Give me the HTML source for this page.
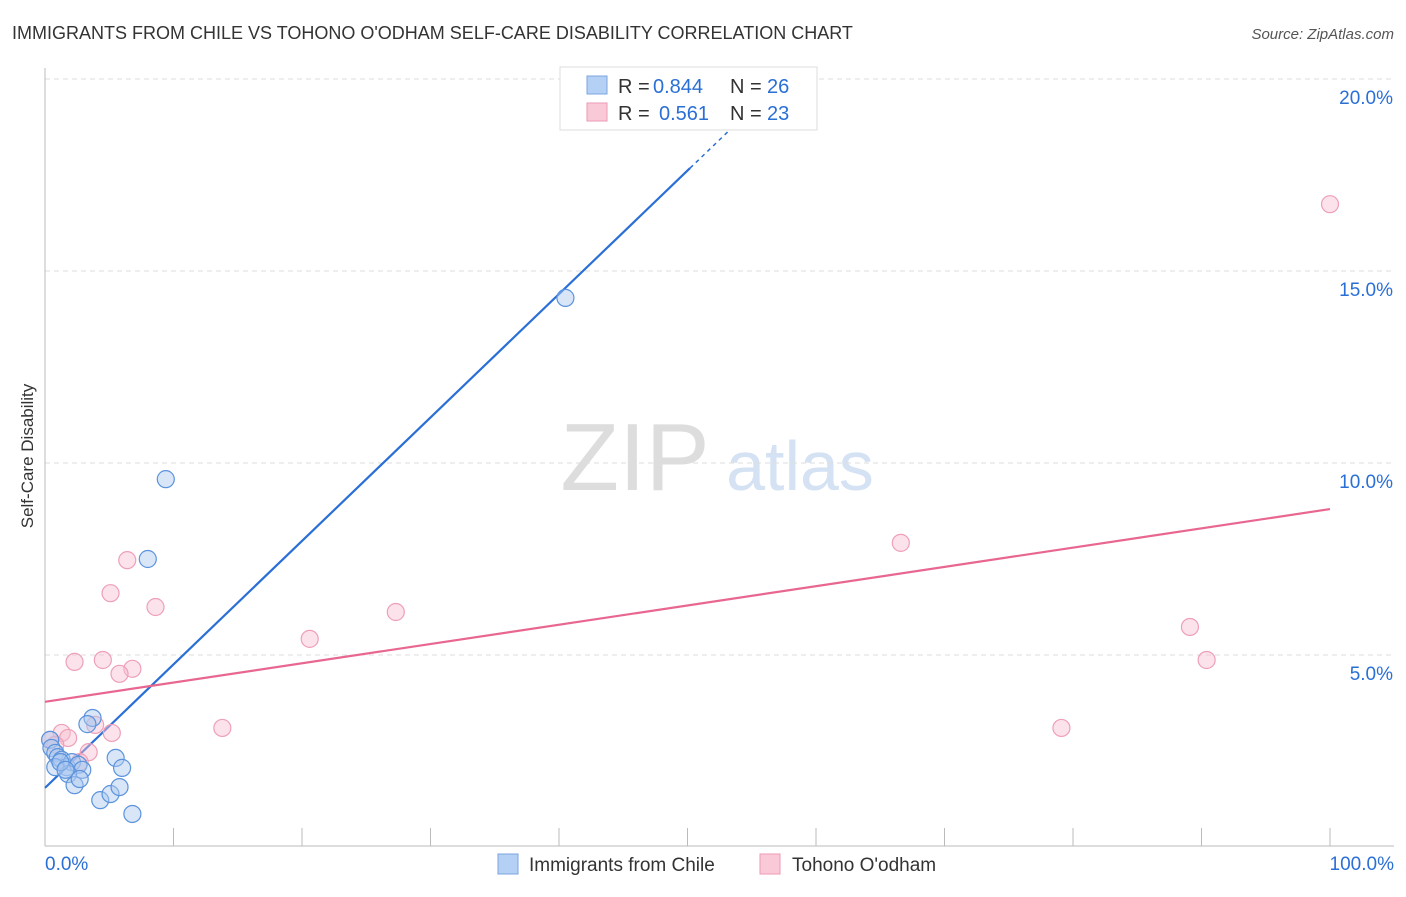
<!DOCTYPE html>
<html><head><meta charset="utf-8"><style>
body{margin:0;background:#fff;font-family:"Liberation Sans",sans-serif;}
svg text{font-family:"Liberation Sans",sans-serif;}
</style></head><body>
<svg width="1406" height="892">
<text x="12" y="39" font-size="18" fill="#333">IMMIGRANTS FROM CHILE VS TOHONO O'ODHAM SELF-CARE DISABILITY CORRELATION CHART</text>
<text x="1394" y="39" font-size="15" fill="#555" font-style="italic" text-anchor="end">Source: ZipAtlas.com</text>
<text x="33" y="456" font-size="17" fill="#333" text-anchor="middle" transform="rotate(-90 33 456)">Self-Care Disability</text>
<g><text x="635" y="490" font-size="96" fill="#ddd" font-family="Liberation Serif" text-anchor="middle">ZIP</text><text x="800" y="490" font-size="70" fill="#d4e2f4" text-anchor="middle">atlas</text></g>
<g id="grid"></g><g id="axes"></g><g id="lines"></g><g id="pts"></g>
<g>
<rect x="560" y="67" width="257" height="63" fill="#fff" stroke="#ddd"/>
<rect x="587" y="76" width="20" height="18" fill="#b5d0f5" stroke="#7aa6e0"/>
<rect x="587" y="103" width="20" height="18" fill="#fac9d8" stroke="#ee9ab4"/>
<text x="618" y="93" font-size="20" fill="#333">R =</text>
<text x="653" y="93" font-size="20" fill="#2a6fd6">0.844</text>
<text x="730" y="93" font-size="20" fill="#333">N =</text>
<text x="767" y="93" font-size="20" fill="#2a6fd6">26</text>
<text x="618" y="120" font-size="20" fill="#333">R =</text>
<text x="659" y="120" font-size="20" fill="#2a6fd6">0.561</text>
<text x="730" y="120" font-size="20" fill="#333">N =</text>
<text x="767" y="120" font-size="20" fill="#2a6fd6">23</text>
</g>
<g>
<rect x="498" y="854" width="20" height="20" fill="#b5d0f5" stroke="#7aa6e0"/>
<text x="529" y="871" font-size="19" fill="#333">Immigrants from Chile</text>
<rect x="760" y="854" width="20" height="20" fill="#fac9d8" stroke="#ee9ab4"/>
<text x="792" y="871" font-size="19" fill="#333">Tohono O'odham</text>
</g>
</svg>
<script>
const yTicks=[5,10,15,20];
const yTickLabels=["5.0%","10.0%","15.0%","20.0%"];
const chileX=[9.4,8.0,40.5,3.7,3.3,5.5,6.0,0.4,0.5,0.8,1.0,1.3,1.7,2.1,2.6,2.9,1.8,2.3,2.7,4.3,5.1,5.8,6.8,0.8,1.2,1.6];
const chileY=[9.58,7.50,14.30,3.36,3.20,2.32,2.06,2.79,2.58,2.45,2.34,2.27,2.08,2.21,2.14,2.01,1.90,1.61,1.77,1.22,1.38,1.56,0.86,2.08,2.21,2.01];
const tohonoX=[100,66.6,89.1,90.4,79.1,27.3,20.6,13.8,8.6,6.4,5.1,2.3,4.5,6.8,5.8,5.2,3.9,1.3,1.8,3.4,0.4,0.8,2.7];
const tohonoY=[16.74,7.92,5.73,4.87,3.10,6.12,5.42,3.10,6.25,7.47,6.61,4.82,4.87,4.64,4.51,2.97,3.18,2.97,2.84,2.47,2.79,2.66,2.21];
const chileLine=[0,1.54,50.2,17.68,55.6];
const tohonoLine=[0,3.78,100,8.80];
const X=v=>45+v*12.85, Y=v=>847-v*38.4;
const NS="http://www.w3.org/2000/svg";
function mk(p,t,a){const e=document.createElementNS(NS,t);for(const k in a)e.setAttribute(k,a[k]);document.getElementById(p).appendChild(e);return e;}
yTicks.forEach((t,i)=>{
 const l=mk('grid','line',{x1:45,x2:1394,y1:Y(t),y2:Y(t),stroke:'#ddd','stroke-dasharray':'5,4'});
 
 
 const tx=mk('grid','text',{x:1393,y:Y(t)+25,'font-size':19,fill:'#2a6fd6','text-anchor':'end'});
 tx.textContent=yTickLabels[i];
 
 
});
const ax=mk('axes','line',{x1:45,x2:45,y1:68,y2:846,stroke:'#bbb'});


const bx=mk('axes','line',{x1:45,x2:1394,y1:846,y2:846,stroke:'#bbb'});


for(let i=1;i<=10;i++){const t=mk('axes','line',{x1:45+i*128.5,x2:45+i*128.5,y1:828,y2:846,stroke:'#bbb'});
 
 }
const xl=mk('axes','text',{x:45,y:870,'font-size':19,fill:'#2a6fd6'});xl.textContent='0.0%';


const xr=mk('axes','text',{x:1394,y:870,'font-size':19,fill:'#2a6fd6','text-anchor':'end'});xr.textContent='100.0%';


const slope=(chileLine[3]-chileLine[1])/(chileLine[2]-chileLine[0]);
const cl=mk('lines','line',{x1:X(chileLine[0]),y1:Y(chileLine[1]),x2:X(chileLine[2]),y2:Y(chileLine[3]),stroke:'#2a6fd6','stroke-width':2.2});


const cd=mk('lines','line',{x1:X(chileLine[2]),y1:Y(chileLine[3]),x2:X(chileLine[4]),y2:Y(chileLine[1]+slope*chileLine[4]),stroke:'#2a6fd6','stroke-width':1.5,'stroke-dasharray':'4,4'});


const tl=mk('lines','line',{x1:X(tohonoLine[0]),y1:Y(tohonoLine[1]),x2:X(tohonoLine[2]),y2:Y(tohonoLine[3]),stroke:'#e8668f','stroke-width':2.2});


tohonoX.forEach((x,i)=>{const c=mk('pts','circle',{cx:X(x),cy:Y(tohonoY[i]),r:8.5,fill:'rgba(248,190,208,0.45)',stroke:'#eea0b8','stroke-width':1.2});
 
 });
chileX.forEach((x,i)=>{const c=mk('pts','circle',{cx:X(x),cy:Y(chileY[i]),r:8.5,fill:'rgba(170,200,240,0.45)',stroke:'#5b93dc','stroke-width':1.2});
 
 });
</script>
</body></html>
